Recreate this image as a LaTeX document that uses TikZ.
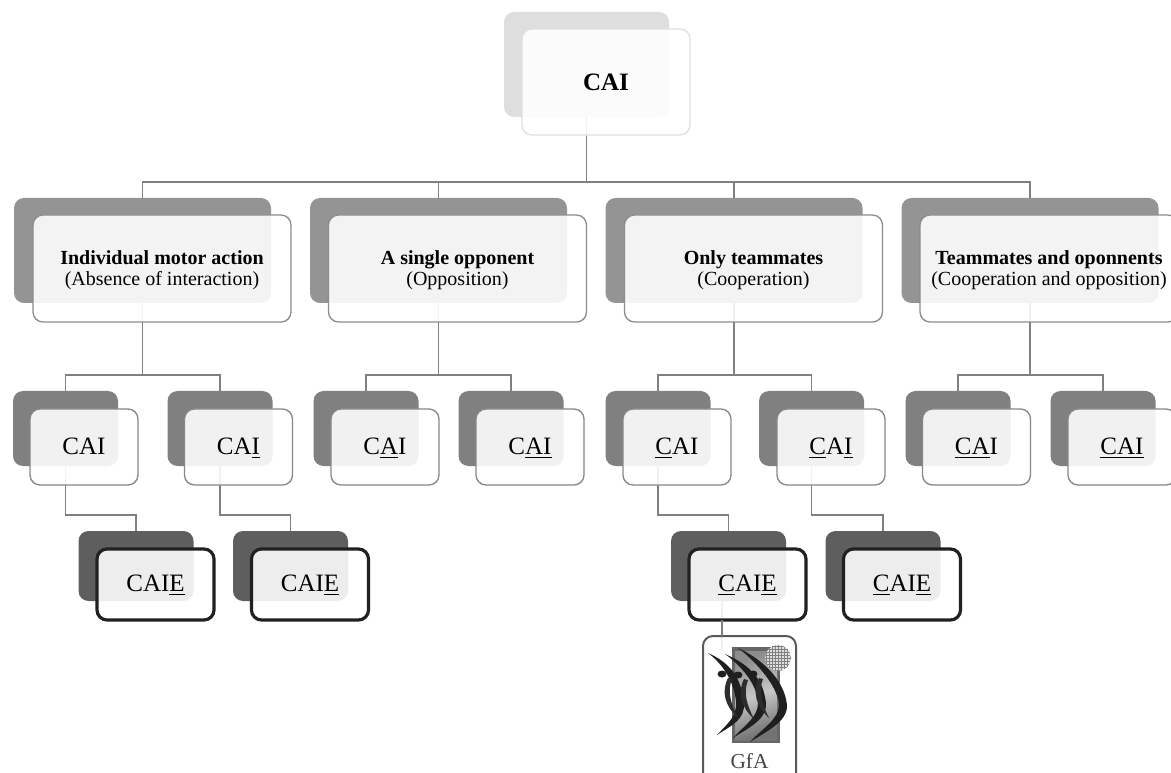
\documentclass[tikz,border=0pt]{standalone}
\usepackage{fontspec}
\setmainfont{Liberation Serif}
\usetikzlibrary{calc}
\tikzset{
  wh/.style 2 args={minimum width=#1*.75pt,minimum height=#2*.75pt},
  anybox/.style={rectangle,rounded corners=7.5pt,inner sep=0pt,outer sep=0pt,align=center,
    font=\fontsize{15}{15.6}\selectfont,text=black},
  back0/.style={anybox,fill=black!13,wh={165}{105}},
  back1/.style={anybox,fill=black!42,wh={257}{105}},
  back2/.style={anybox,fill=black!50,wh={105}{75}},
  back3/.style={anybox,fill=black!63,wh={115}{70}},
  front/.style={anybox,fill=white,fill opacity=.89,text opacity=1,draw},
  front0/.style={front,draw=black!12,line width=1pt,wh={168}{106},text height=13.4pt,text depth=1pt,font=\fontsize{18.75}{20}\selectfont\bfseries},
  front1/.style={front,draw=black!45,line width=1pt,wh={258}{107}},
  front2/.style={front,draw=black!47,line width=1pt,wh={108}{76},text height=13pt,text depth=1pt,font=\fontsize{18.75}{20}\selectfont},
  front3/.style={front,draw=black!87,line width=2.4pt,wh={117}{71},text height=12.6pt,text depth=1.4pt,font=\fontsize{18.75}{20}\selectfont},
  link/.style={draw=black!50,line width=1.1pt},
}
\newcommand{\ul}[1]{\underline{#1}}
\newcommand{\twolines}[2]{\rule{0pt}{12.6pt}\textbf{#1}\\#2}
\begin{document}
\begin{tikzpicture}[x=.75pt,y=-.75pt]
\useasboundingbox (0,0) rectangle (1171,773);
\clip (0,0) rectangle (1171,773);

% back plates
\node[back0] (b0) at (586.5,64.5) {};
\node[back1] (b1a) at (142.5,250.5) {};
\node[back1] (b1b) at (438.5,250.5) {};
\node[back1] (b1c) at (734,250.5) {};
\node[back1] (b1d) at (1030,250.5) {};
\foreach \n/\cx in {a/65.5,b/220,c/366,d/511,e/658,f/811.5,g/958,h/1103}
  \node[back2] (b2\n) at (\cx,428.5) {};
\foreach \n/\cx in {a/136,b/290.5,c/728.5,d/883}
  \node[back3] (b3\n) at (\cx,566) {};

% connectors
\coordinate (busT) at (0,182);
\coordinate (busM) at (0,375);
\coordinate (busL) at (0,515);
\coordinate (gfaTop) at (722,636);
\coordinate (gfaEnd) at (722,651);
\draw[link] (b0.south) -- (b0.south |- busT);
\draw[link] (b1a.north) |- (b1d.north |- busT) -- (b1d.north);
\draw[link] (b1b.north) -- (b1b.north |- busT);
\draw[link] (b1c.north) -- (b1c.north |- busT);
\foreach \p/\l/\r in {b1a/b2a/b2b,b1b/b2c/b2d,b1c/b2e/b2f,b1d/b2g/b2h}{
  \draw[link] (\p.south) -- (\p.south |- busM);
  \draw[link] (\l.north) |- (\r.north |- busM) -- (\r.north);
}
\foreach \p/\c in {b2a/b3a,b2b/b3b,b2e/b3c,b2f/b3d}
  \draw[link] (\p.south) |- (\c.north |- busL) -- (\c.north);
\draw[link] (gfaTop |- b3c.south) -- (gfaEnd);

% front plates
\node[front0] (f0) at (606,82) {CAI};
\node[front1] (f1a) at (162,268.5) {\twolines{Individual motor action}{(Absence of interaction)}};
\node[front1] (f1b) at (457.5,268.5) {\twolines{A single opponent}{(Opposition)}};
\node[front1] (f1c) at (753.5,268.5) {\twolines{Only teammates}{(Cooperation)}};
\node[front1] (f1d) at (1049,268.5) {\twolines{Teammates and oponnents}{(Cooperation and opposition)}};
\node[front2] (f2a) at (84,447) {CAI};
\node[front2] (f2b) at (238.5,447) {CA\ul{I}};
\node[front2] (f2c) at (385,447) {C\ul{A}I};
\node[front2] (f2d) at (530,447) {C\ul{AI}};
\node[front2] (f2e) at (677,447) {\ul{C}AI};
\node[front2] (f2f) at (831,447) {\ul{C}A\ul{I}};
\node[front2] (f2g) at (976.5,447) {\ul{CA}I};
\node[front2] (f2h) at (1122,447) {\ul{CAI}};
\node[front3] (f3a) at (155.5,584.5) {CAI\ul{E}};
\node[front3] (f3b) at (310,584.5) {CAI\ul{E}};
\node[front3] (f3c) at (747.5,584.5) {\ul{C}AI\ul{E}};
\node[front3] (f3d) at (902,584.5) {\ul{C}AI\ul{E}};

% GfA card
\node[anybox,fill=white,fill opacity=.9,draw=black!65,line width=1.5pt,wh={93}{156}] (gfa) at (749.5,714) {};
\node[anybox,text=black!72,font=\fontsize{16}{16}\selectfont] (gfalabel) at (749.5,761) {GfA};
\draw[link] (gfaTop |- f3c.south) -- (gfaTop);

% GfA emblem
\fill[black!60] (732,647) rectangle (780,743);
\shade[left color=black!45,right color=black!55,middle color=black!22,shading angle=20] (735,651) rectangle (777,740);
\fill[black!12] (778,658) circle (13);
\begin{scope}
\clip (778,658) circle (13);
\foreach \i in {-12,-9,...,12}{
  \draw[black!50,line width=.45pt] (778+\i,645) -- (778+\i,671);
  \draw[black!50,line width=.45pt] (765,658+\i) -- (791,658+\i);
}
\end{scope}
\foreach \Tx/\Ty/\Rx/\Ry/\Fx/\Fy/\Hx/\Hy in {
    708/653/744/703/717/735/722/674,
    725/654/766/703/733/738/738/675,
    738/648/787/705/750/742/753/674}{
  \fill[black!88] (\Tx,\Ty) .. controls (\Tx+20,\Ty+9) and (\Rx-3,\Ry-28) .. (\Rx,\Ry)
     .. controls (\Rx+1,\Ry+17) and (\Fx+15,\Fy-10) .. (\Fx,\Fy)
     .. controls (\Fx+13,\Fy-14) and (\Rx-8,\Ry+14) .. (\Rx-8,\Ry)
     .. controls (\Rx-9,\Ry-20) and (\Tx+15,\Ty+11) .. (\Tx,\Ty);
  \fill[black!82] (\Hx+6,\Hy+4) .. controls (\Hx-1,\Hy+18) and (\Hx+3,\Hy+32) .. (\Hx+16,\Hy+44)
     .. controls (\Hx+9,\Hy+30) and (\Hx+5,\Hy+18) .. (\Hx+10,\Hy+5) -- cycle;
  \fill[black!88] (\Hx,\Hy) ellipse (4.5 and 3.5);
}
\end{tikzpicture}
\end{document}
